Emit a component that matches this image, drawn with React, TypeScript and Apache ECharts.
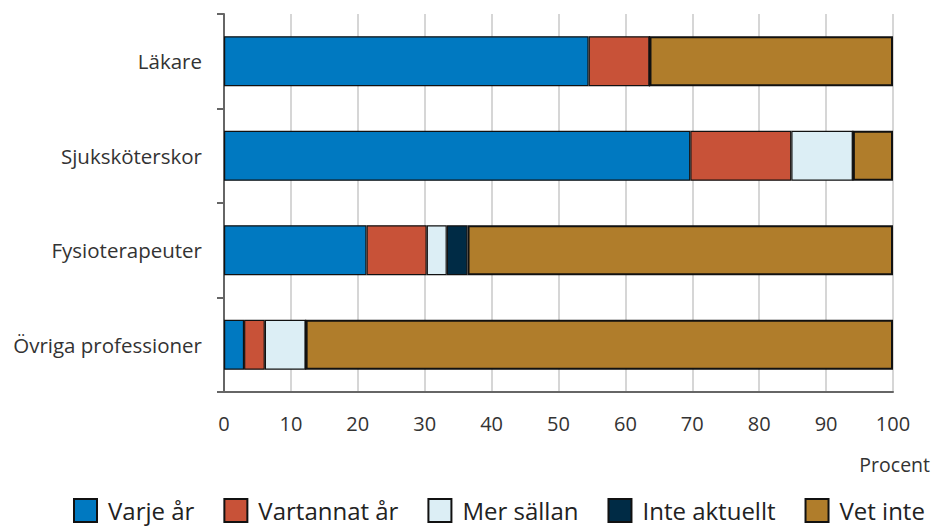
import React, { useEffect, useRef } from "react";
import * as echarts from "echarts";

const categories = ["Läkare", "Sjuksköterskor", "Fysioterapeuter", "Övriga professioner"];
const seriesNames = ["Varje år", "Vartannat år", "Mer sällan", "Inte aktuellt", "Vet inte"];
const varjeAr = [54.5, 69.7, 21.3, 3.0];
const vartannatAr = [9.1, 15.1, 9.0, 3.1];
const merSallan = [0, 9.2, 3.0, 6.1];
const inteAktuellt = [0, 0, 3.1, 0];
const vetInte = [36.4, 6.0, 63.6, 87.8];
const xTicks = [0, 10, 20, 30, 40, 50, 60, 70, 80, 90, 100];
const colors = ["#0079C1", "#C85238", "#DCEEF5", "#002B45", "#B07D2B"];

const FONT = "'Open Sans', sans-serif";

export default function App() {
  const ref = useRef<HTMLDivElement>(null);
  useEffect(() => {
    if (!ref.current) return;
    const chart = echarts.init(ref.current, null, { renderer: "svg" });
    const dataSets = [varjeAr, vartannatAr, merSallan, inteAktuellt, vetInte];
    chart.setOption({
      animation: false,
      textStyle: { fontFamily: FONT },
      grid: { left: 224, right: 40, top: 14, bottom: 135, containLabel: false },
      legend: {
        top: 498,
        left: 73,
        right: 0,
        padding: 0,
        itemWidth: 23,
        itemHeight: 23,
        itemGap: 29,
        icon: "rect",
        textStyle: { fontSize: 24, color: "#222", fontFamily: FONT, padding: [0, 0, 0, 6] },
        data: seriesNames,
      },
      xAxis: {
        type: "value",
        min: xTicks[0],
        max: xTicks[xTicks.length - 1],
        interval: 10,
        axisLine: { show: true, lineStyle: { color: "#666", width: 2 } },
        axisTick: { show: false },
        splitLine: { show: true, lineStyle: { color: "#c8c8c8", width: 1.5 } },
        axisLabel: { fontSize: 20, color: "#333", margin: 21, fontFamily: FONT },
      },
      yAxis: {
        type: "category",
        data: categories,
        inverse: true,
        axisLine: { show: true, lineStyle: { color: "#666", width: 2 } },
        axisTick: { show: true, length: 7, lineStyle: { color: "#666", width: 2 } },
        axisLabel: { fontSize: 20.5, color: "#333", margin: 22, fontFamily: FONT },
      },
      graphic: [
        {
          type: "text",
          right: 3,
          top: 454,
          style: { text: "Procent", fontSize: 19.5, fill: "#333", fontFamily: FONT },
        },
      ],
      series: seriesNames.map((name, i) => ({
        name,
        type: "bar",
        stack: "total",
        barWidth: 50,
        data: dataSets[i],
        itemStyle: {
          color: colors[i],
          borderColor: "#111",
          borderWidth: i === 4 ? 2 : 1.2,
        },
      })),
    });
    return () => chart.dispose();
  }, []);
  return (
    <div
      ref={ref}
      style={{ position: "absolute", left: 0, top: 0, width: 933, height: 527 }}
    />
  );
}
